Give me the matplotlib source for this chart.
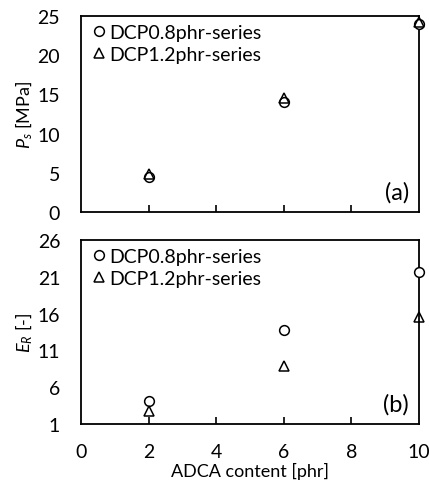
import matplotlib
matplotlib.use("Agg")
import matplotlib.pyplot as plt

plt.rcParams['font.family'] = ['Lato', 'DejaVu Sans']
plt.rcParams['mathtext.fontset'] = 'custom'
plt.rcParams['mathtext.it'] = 'Lato:italic'
plt.rcParams['mathtext.rm'] = 'Lato'

adca = [2, 6, 10]
ps_dcp08 = [4.5, 14.0, 24.0]
ps_dcp12 = [4.9, 14.6, 24.2]
er_dcp08 = [4.1, 13.8, 21.7]
er_dcp12 = [2.8, 8.9, 15.6]

fig = plt.figure(figsize=(4.29, 4.81), dpi=100)
ax1 = fig.add_axes([81 / 429, 1 - 213 / 481, 338 / 429, 196 / 481])
ax2 = fig.add_axes([81 / 429, 1 - 425 / 481, 338 / 429, 184 / 481])

def draw(ax, y1, y2, ylim, yticks, ylabel, tag):
    ax.plot(adca, y1, 'o', mfc='white', mec='black', ms=7, mew=1.1,
            label='DCP0.8phr-series', clip_on=False, zorder=3)
    ax.plot(adca, y2, '^', mfc='none', mec='black', ms=7, mew=1.1,
            label='DCP1.2phr-series', clip_on=False, zorder=4)
    ax.set_xlim(0, 10)
    ax.set_ylim(*ylim)
    ax.set_yticks(yticks)
    ax.set_xticks([2, 4, 6, 8])
    ax.tick_params(axis='x', direction='in', length=5, width=1.2)
    ax.tick_params(axis='y', direction='out', length=0, labelsize=14, pad=15)
    for s in ax.spines.values():
        s.set_linewidth(1.3)
    ax.set_ylabel(ylabel, fontsize=13, labelpad=2)
    ax.text(0.97, 0.05, tag, transform=ax.transAxes, ha='right', va='bottom', fontsize=17)
    ax.legend(loc='upper left', frameon=False, fontsize=14, handletextpad=0.05,
              handlelength=1.0, borderaxespad=0.1, labelspacing=0.25, borderpad=0.3)

draw(ax1, ps_dcp08, ps_dcp12, (0, 25), [0, 5, 10, 15, 20, 25], '$P_s$ [MPa]', '(a)')
ax1.set_xticklabels([])
draw(ax2, er_dcp08, er_dcp12, (1, 26), [1, 6, 11, 16, 21, 26], '$E_R$ [-]', '(b)')
ax2.set_xticklabels([])
for v in [0, 2, 4, 6, 8, 10]:
    ax2.text(v, -0.15, str(v), transform=ax2.get_xaxis_transform(), ha='center', va='center', fontsize=14)
ax2.text(0.5, -0.285, 'ADCA content [phr]', transform=ax2.transAxes, ha='center', va='baseline', fontsize=13)

fig.savefig('out.png', dpi=100)
